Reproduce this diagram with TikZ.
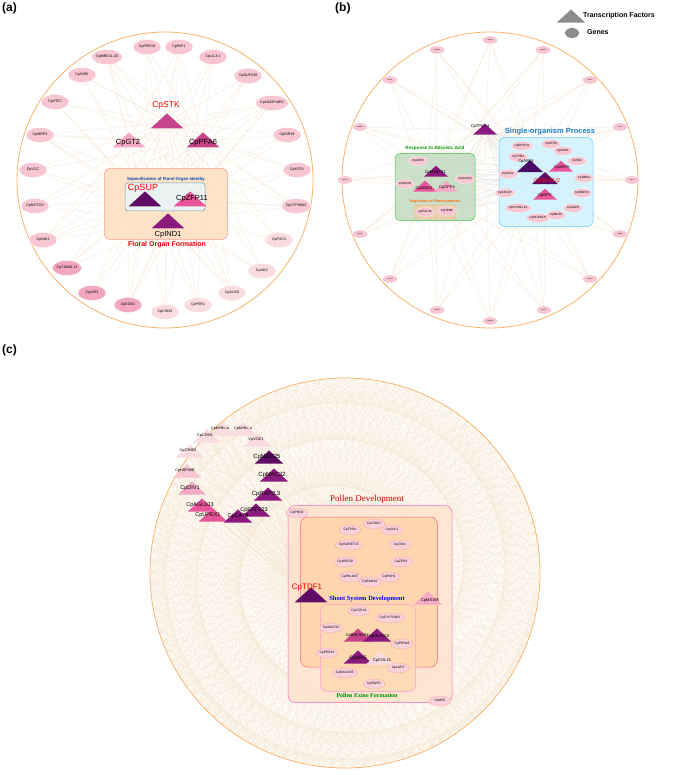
\documentclass[tikz,border=0pt]{standalone}
\usepackage{fontspec}
\setmainfont{Liberation Sans}
\newfontfamily\serifx{Liberation Serif}
\usetikzlibrary{shapes.geometric}
\pgfdeclarelayer{bgl}\pgfdeclarelayer{edg}
\pgfsetlayers{bgl,edg,main}
\definecolor{gl}{HTML}{F7C6D2}
\definecolor{gm}{HTML}{F2A7BF}
\definecolor{gp}{HTML}{FADBDF}
\definecolor{tfl}{HTML}{F4A9C4}
\definecolor{tfm}{HTML}{E8559A}
\definecolor{tfs}{HTML}{C8448A}
\definecolor{tfp}{HTML}{8B1A7E}
\definecolor{tfd}{HTML}{5E0C66}
\definecolor{tfv}{HTML}{4A0D66}
\definecolor{ring}{HTML}{F7B36A}
\definecolor{edgec}{HTML}{F6E8D3}
\definecolor{webc}{HTML}{F7EAD7}
\tikzset{
 gene/.style={ellipse,draw=white,line width=0.3pt,fill=gl,minimum width=28,minimum height=15,inner sep=0,font=\fontsize{3.6}{4}\selectfont},
 sgene/.style={ellipse,draw=white,line width=0.2pt,fill=gl,minimum width=15,minimum height=8,inner sep=0,font=\fontsize{1.6}{2}\selectfont},
 mgene/.style={ellipse,draw=white,line width=0.2pt,fill=gl,minimum width=19,minimum height=9,inner sep=0,font=\fontsize{3}{3}\selectfont},
 cgene/.style={ellipse,draw=pink!80!red,line width=0.2pt,fill=gl!80,minimum width=22,minimum height=10,inner sep=0,font=\fontsize{3.3}{3.5}\selectfont},
 tf/.style={isosceles triangle,isosceles triangle apex angle=95,shape border rotate=90,inner sep=0,minimum height=#1,draw=none},
 tf/.default=14,
 lab/.style={inner sep=0,font=\fontsize{7.5}{8}\selectfont},
 slab/.style={inner sep=0,font=\fontsize{4}{4}\selectfont},
 clab/.style={inner sep=0,font=\fontsize{5}{5}\selectfont},
 edge/.style={draw=edgec,line width=0.3pt},
 web/.style={draw=webc,line width=0.2pt},
}
\begin{document}
\begin{tikzpicture}[x=1pt,y=-1pt]
\useasboundingbox (0,0) rectangle (685,775);
\begin{pgfonlayer}{bgl}
\fill[white] (0,0) rectangle (685,775);
\end{pgfonlayer}
% ===== panel labels
\node[font=\bfseries\fontsize{12}{12}\selectfont,anchor=north west,inner sep=0] (pa) at (2,3) {(a)};
\node[font=\bfseries\fontsize{12}{12}\selectfont,anchor=north west,inner sep=0] (pb) at (335,3) {(b)};
\node[font=\bfseries\fontsize{12}{12}\selectfont,anchor=north west,inner sep=0] (pc) at (2,345) {(c)};
% ===== legend
\node[tf=13,fill=gray!90] (legt) at (571,17) {};
\node[anchor=west,font=\bfseries\fontsize{7}{7}\selectfont,inner sep=0] (legtt) at (583,16) {Transcription Factors};
\node[ellipse,fill=gray!90,minimum width=14,minimum height=10,inner sep=0] (lege) at (572,33) {};
\node[anchor=west,font=\bfseries\fontsize{7}{7}\selectfont,inner sep=0] (legee) at (587,32) {Genes};
% ===== panel (a)
\node[circle,draw=ring,line width=0.8pt,minimum size=296,inner sep=0] (ca) at (165,180) {};
\foreach \l/\x/\y/\c [count=\i] in {CpPER19/147/47/gl,CpPAF1/179/47/gl,CpLIL3:1/213/57/gl,CpDUF239/248/76/gl,CpNADP-ME3/272/103/gl,CpDIR19/287/135/gl,CpXCP1/297/170/gl,CpCYP89A3/296/206/gl,CpPXC3/279/240/gp,CpADC/262/271/gp,CpAUX8/232/293/gp,CpPER1/198/305/gp,CpCHI45/165/312/gp,CpEOD1/128/305/gm,CpAIR3/92/293/gm,CpT16M8.13/67/268/gm,CpNIK1/43/240/gl,CpNOTCH/35/206/gl,CpVCC/33/170/gl,CpMRP3/40/135/gl,CpVTE7/55/102/gl,CpSIRK/82/75/gl,CpMRD11.20/107/57/gl}
  \node[gene,fill=\c] (ga\i) at (\x,\y) {\l};
\begin{scope}[fill opacity=0.85]
\node[draw=red!40,fill=orange!25,rounded corners=5,minimum width=123,minimum height=71,line width=0.5pt] (boxfof) at (166,204) {};
\node[draw=cyan!40!gray,fill=gray!25!cyan!10,rounded corners=3,minimum width=80,minimum height=28,line width=0.5pt] (boxsfo) at (165,197) {};
\end{scope}
\node[inner sep=0,font=\bfseries\fontsize{4.3}{5}\selectfont,text=blue!60!cyan!70!black] (tsfo) at (166,179) {Sepecification of Floral Organ Identity};
\node[inner sep=0,font=\bfseries\fontsize{7}{7}\selectfont,text=red!85!black] (tfof) at (167,245) {Floral Organ Formation};
\node[tf=15,fill=tfs] (stk) at (167,122) {};
\node[lab,text=red,font=\fontsize{8.5}{9}\selectfont] (lstk) at (166,105) {CpSTK};
\node[tf=15,fill=tfl] (gt2) at (129,141) {};
\node[lab] (lgt2) at (128,143) {CpGT2};
\node[tf=15,fill=tfs] (pfa6) at (203,141) {};
\node[lab] (lpfa6) at (203,143) {CpPFA6};
\node[tf=15,fill=tfd] (sup) at (145,200) {};
\node[lab,text=red,font=\fontsize{9}{9}\selectfont] (lsup) at (143,188) {CpSUP};
\node[tf=15,fill=tfm] (zfp11) at (190,200) {};
\node[lab] (lzfp) at (192,199) {CpZFP11};
\node[tf=15,fill=tfp] (ind1) at (168,222) {};
\node[lab] (lind) at (168,235) {CpIND1};
\begin{pgfonlayer}{edg}
\foreach \t in {stk,sup,ind1,pfa6}{\foreach \i in {1,...,23}{\draw[edge] (\t)--(ga\i);}}
\foreach \i in {2,5,8,11,14,17,20,23}{\draw[edge] (gt2)--(ga\i); \draw[edge] (zfp11)--(ga\i);}
\end{pgfonlayer}
% ===== panel (b)
\node[circle,draw=ring,line width=0.8pt,minimum size=296,inner sep=0] (cb) at (490,180) {};
\foreach \l/\x/\y [count=\i] in {CpMYB/490/40,CpNAM/437/50,CpGH3/543/50,CpSPL/390/80,CpEXP/590/80,CpWRKY/360/127,CpTIP/620/127,CpCHS/345/180,CpLOX/632/180,CpGRP/360/234,CpMAT/620/234,CpPIP2/390/279,CpACO/590/279,CpSUS/437/310,CpXTH/544/310,CpRBOH/490/321}
  \node[sgene] (gb\i) at (\x,\y) {\l};
\begin{scope}[fill opacity=0.8]
\node[draw=green!55!gray,fill=green!25!gray!40,rounded corners=5,minimum width=80,minimum height=67,line width=0.5pt] (boxaba) at (435,187) {};
\node[draw=orange!70,fill=orange!45!brown!40,rounded corners=1,minimum width=41,minimum height=14,line width=0.4pt] (boxph) at (435,212) {};
\node[draw=blue!35!cyan!60,fill=blue!25!cyan!20,rounded corners=6,minimum width=94,minimum height=89,line width=0.5pt] (boxsop) at (546,182) {};
\end{scope}
\node[inner sep=0,font=\bfseries\fontsize{4.6}{5}\selectfont,text=green!60!black] (taba) at (435,148) {Response to Abscisic Acid};
\node[inner sep=0,font=\bfseries\fontsize{3.6}{4}\selectfont,text=orange!80!red] (tph) at (435,202) {Regulation of Photosynthesis};
\node[inner sep=0,font=\bfseries\fontsize{7.5}{8}\selectfont,text=cyan!60!blue] (tsop) at (550,132) {Single-organism Process};
\node[tf=11,fill=tfp] (tpk) at (485,130) {};
\node[slab] (ltpk) at (480,127) {CpTPK7.3};
\foreach \l/\x/\y [count=\i] in {CpAHK5/418/161,CpGASA1/465/179,CpSKOR/405/184,CpPGL38/425/212,CpHEMF/447/211,CpDRT511/522/146,CpSTP8/551/144,CpCD31/563/151,CpTPR3/518/157,CpSR2/577/161,CpCKX1/508/174,CpNRG2/584/178,CpKIN14T/505/193,CpHMP16/582/193,CpF23H11.10/518/208,CpAGP9/573/208,CpDUF3675/538/218,CpMGT9/556/215}
  \node[mgene] (gi\i) at (\x,\y) {\l};
\node[tf=11,fill=tfp] (myb101) at (436,172) {};
\node[slab] (lmyb) at (435,173) {CpMYB101};
\node[tf=11,fill=tfm] (abig1) at (425,187) {};
\node[slab] (labig) at (424,189) {CpABIG1};
\node[tf=11,fill=tfl] (ofp4) at (446,187) {};
\node[slab] (lofp) at (447,188) {CpOFP4};
\node[tf=12,fill=tfv] (arf4) at (530,167) {};
\node[slab] (larf) at (526,162) {CpARF4};
\node[tf=11,fill=tfm] (hat5) at (561,167) {};
\node[slab] (lhat) at (562,168) {CpHAT5};
\node[tf=12,fill=tfd] (sep) at (545,179) {};
\node[slab,text=red,font=\fontsize{5.5}{6}\selectfont] (lsep) at (547,181) {CpSEP1/2};
\node[tf=11,fill=tfm] (spc) at (545,195) {};
\node[slab] (lspc) at (545,196) {CpSPC};
\begin{pgfonlayer}{edg}
\foreach \t in {tpk,arf4,sep,myb101,abig1}{\foreach \i in {1,...,16}{\draw[edge] (\t)--(gb\i);}}
\foreach \t in {tpk,arf4,sep,hat5,spc}{\foreach \i in {1,...,18}{\draw[edge,draw=gray!20] (\t)--(gi\i);}}
\foreach \t in {myb101,abig1,ofp4}{\foreach \i in {1,...,5}{\draw[edge] (\t)--(gi\i);}}
\end{pgfonlayer}
% ===== panel (c)
\coordinate (cc) at (345,573);
\begin{pgfonlayer}{bgl}
\fill[orange!3] (cc) circle (195);
\foreach \a in {0,3,...,357}{\foreach \d in {23,61,97,139,173}{\draw[web] ([shift={(\a:194)}]cc) -- ([shift={(\a+\d+\a/7:194)}]cc);}}
\draw[ring,line width=0.8pt] (cc) circle (195);
\end{pgfonlayer}
\foreach \l/\x/\y/\c [count=\i] in {CpMYBL-b/222/430/gp,CpMYBL-a/243/430/gp,CpCDM1/207/437/gp,CpVOZ1/258/441/gp,CpC3H63/190/452/gp,CpNAC25/269/458/tfd,CpHSFA6B/187/472/gl,CpNAC32/274/476/tfp,CpDIV1/192/489/tfl,CpRAP2.3/268/495/tfp,CpAGL103/202/506/tfm,CpERF023/256/511/tfp,CpUPEX1/213/516/tfm,CpCAT9/238/517/tfp}
  {\node[tf=13,fill=\c] (tc\i) at (\x,\y) {};}
\foreach \l/\x/\y/\s [count=\i] in {CpMYBL-b/222/430/3.6,CpMYBL-a/245/430/3.6,CpCDM1/207/437/3.8,CpVOZ1/258/441/3.8,CpC3H63/190/452/3.8,CpNAC25/269/458/6,CpHSFA6B/187/472/3.8,CpNAC32/274/476/6,CpDIV1/192/489/5.5,CpRAP2.3/268/495/6,CpAGL103/202/506/5.5,CpERF023/256/511/5.5,CpUPEX1/210/516/5.5,CpCAT9/240/517/5.5}
  {\node[clab,font=\fontsize{\s}{\s}\selectfont] (ltc\i) at (\x-2,\y-1) {\l};}
\begin{scope}[fill opacity=0.8]
\node[draw=magenta!60,fill=red!15!orange!20,rounded corners=7,minimum width=164,minimum height=197,line width=0.5pt] (boxpd) at (370,604) {};
\node[draw=magenta!40!red!60,fill=orange!35,rounded corners=7,minimum width=137,minimum height=150,line width=0.5pt] (boxss) at (369,592) {};
\node[draw=magenta!40,fill=orange!30,rounded corners=7,minimum width=95,minimum height=87,line width=0.5pt] (boxpe) at (368,648) {};
\end{scope}
\node[inner sep=0,font=\serifx\fontsize{9}{9}\selectfont,text=red!85!black] (tpd) at (367,499) {Pollen Development};
\node[inner sep=0,font=\serifx\bfseries\fontsize{6.5}{7}\selectfont,text=blue] (tss) at (367,599) {Shoot System Development};
\node[inner sep=0,font=\serifx\bfseries\fontsize{6}{6}\selectfont,text=green!55!black] (tpe) at (367,695) {Pollen Exine Formation};
\foreach \l/\x/\y [count=\i] in {CpPRD3/297/513,CpCDKC/374/524,CpTPR4/350/530,CpSOL2/392/530,CpSWEET15/349/545,CpCOI1/400/545,CpABCG9/345/562,CpZPR3/401/562,CpPM-ANT/350/577,CpRSH1/389/577,CpEMB22/370/582,CpCCRL6/359/611,CpCYP704B1/390/618,CpXBAT32/331/628,CpPER48/402/644,CpPER43/327/653,CpLAP3/398/668,CpBACOS5/345/673,CpRWP1/374/684,CpMS5/440/701}
  \node[cgene] (gc\i) at (\x,\y) {\l};
\node[tf=15,fill=tfd] (tdf1) at (311,596) {};
\node[clab,text=red,font=\fontsize{8}{8}\selectfont] (ltdf) at (307,588) {CpTDF1};
\node[tf=13,fill=tfl] (ms188) at (428,599) {};
\node[clab,font=\fontsize{4}{4}\selectfont] (lms) at (430,601) {CpMS188};
\node[tf=13,fill=tfs] (bh091) at (358,636) {};
\node[clab,font=\fontsize{4}{4}\selectfont] (lbh1) at (357,636) {CpBHLH091};
\node[tf=13,fill=tfp] (bh010) at (377,636) {};
\node[clab,font=\fontsize{4}{4}\selectfont] (lbh2) at (378,637) {CpBHLH010};
\node[tf=13,fill=tfp] (ams) at (358,658) {};
\node[clab] (lams) at (358,658) {CpAMS};
\node[tf=13,fill=gp] (col16) at (380,659) {};
\node[clab,font=\fontsize{4}{4}\selectfont] (lcol) at (382,661) {CpCOL16};
\begin{pgfonlayer}{edg}
\foreach \i in {1,...,14}{\draw[edge] (tc\i)--(tdf1); \draw[edge] (tc\i)--(ms188); \draw[edge] (tc\i)--(bh091);}
\end{pgfonlayer}
\end{tikzpicture}
\end{document}
